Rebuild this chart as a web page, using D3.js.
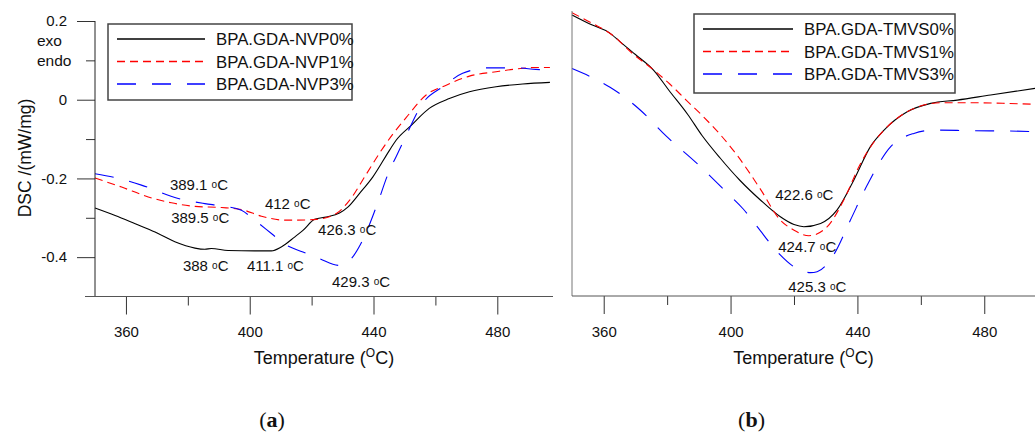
<!DOCTYPE html>
<html>
<head>
<meta charset="utf-8">
<script src="https://cdn.jsdelivr.net/npm/d3@7"></script>
<style>
  body { margin: 0; background: #fff; }
  text { font-family: "Liberation Sans", Arial, sans-serif; fill: #111; }
</style>
</head>
<body>
<svg width="1035" height="437"></svg>
<script>
const svg = d3.select('svg');

// ---- data ----
const tempTicks = [360, 380, 400, 420, 440, 460, 480];
const majorTemps = [360, 400, 440, 480];
const dscTicksA = [0.2, 0.1, 0, -0.1, -0.2, -0.3, -0.4];
const dscLabelsA = ['0.2', '', '0', '', '-0.2', '', '-0.4'];

// (a) NVP series: [temperature, DSC]
const nvp0 = [[350,-0.275],[356.5,-0.294],[363,-0.315],[369.4,-0.336],[375.8,-0.361],[382.3,-0.377],[385.5,-0.380],[387.6,-0.378],[393,-0.383],[401.6,-0.384],[407,-0.384],[410.2,-0.374],[414.5,-0.349],[417.2,-0.332],[421,-0.304],[424.7,-0.298],[429,-0.288],[431.7,-0.273],[435.5,-0.238],[439.8,-0.196],[445.2,-0.128],[447.3,-0.103],[452.2,-0.065],[458,-0.022],[464.5,0.003],[471,0.020],[479.6,0.033],[488.2,0.040],[497,0.044]];
const nvp1 = [[350,-0.199],[358.6,-0.222],[367.2,-0.247],[374.7,-0.262],[382.3,-0.271],[390.9,-0.274],[397.3,-0.279],[403.8,-0.296],[411.3,-0.306],[415,-0.306],[421.5,-0.304],[428,-0.289],[432.3,-0.255],[437.6,-0.19],[442,-0.135],[446,-0.09],[450.6,-0.045],[457,0.012],[463.5,0.037],[471,0.060],[479.6,0.071],[486,0.078],[492.5,0.082],[497,0.082]];
const nvp3 = [[350,-0.188],[356.5,-0.198],[365,-0.217],[376.9,-0.251],[385.5,-0.264],[390.9,-0.270],[397.3,-0.281],[401.6,-0.306],[407,-0.340],[411.3,-0.367],[417.2,-0.387],[422.6,-0.404],[429,-0.421],[432.8,-0.404],[436.5,-0.357],[440.9,-0.272],[445.2,-0.179],[447.3,-0.145],[450.6,-0.090],[455.9,-0.009],[462.4,0.033],[468.8,0.067],[477.4,0.081],[486,0.081],[492.5,0.077],[497,0.075]];

// (b) TMVS series: [temperature, DSC] (no y labels in the original)
const tmvs0 = [[350,0.187],[356.4,0.153],[361.7,0.128],[365.1,0.098],[370,0.055],[375.7,0.003],[380.6,-0.065],[386.5,-0.145],[391,-0.215],[396.7,-0.29],[403,-0.365],[409.4,-0.43],[415.7,-0.486],[420,-0.512],[423.1,-0.519],[428.4,-0.508],[433.6,-0.463],[438.9,-0.363],[444.1,-0.252],[448.4,-0.197],[455.7,-0.136],[463.1,-0.108],[471.5,-0.097],[482,-0.08],[496,-0.058]];
const tmvs1 = [[350,0.194],[356.4,0.159],[362.7,0.12],[369,0.059],[376.4,-0.002],[381,-0.045],[386,-0.097],[391.4,-0.152],[397,-0.215],[402,-0.28],[409.3,-0.392],[415.7,-0.497],[419.9,-0.53],[424.7,-0.549],[430.5,-0.519],[435.7,-0.43],[441,-0.308],[445,-0.24],[448.4,-0.197],[455.7,-0.136],[466.2,-0.106],[476.7,-0.106],[487.3,-0.108],[496,-0.111]];
const tmvs3 = [[350,0.008],[356.4,-0.022],[362,-0.054],[371.5,-0.13],[379.9,-0.219],[389.4,-0.308],[398.8,-0.405],[404,-0.46],[408.4,-0.519],[415.2,-0.608],[419.9,-0.652],[425.2,-0.672],[427.3,-0.669],[432.5,-0.613],[437.8,-0.497],[443.1,-0.38],[450.5,-0.252],[457.8,-0.208],[464.1,-0.197],[476.7,-0.199],[487.3,-0.2],[496,-0.202]];

// peak labels: [temperature, DSC, text]
const peaksA = [[374.2,-0.230,'389.1'],[404.9,-0.278,'412'],[374.6,-0.314,'389.5'],[422.1,-0.345,'426.3'],[378.4,-0.436,'388'],[399.1,-0.436,'411.1'],[426.6,-0.477,'429.3']];
const peaksB = [[414.1,-0.43,'422.6'],[415.0,-0.603,'424.7'],[418.2,-0.737,'425.3']];

const namesA = ['BPA.GDA-NVP0%', 'BPA.GDA-NVP1%', 'BPA.GDA-NVP3%'];
const namesB = ['BPA.GDA-TMVS0%', 'BPA.GDA-TMVS1%', 'BPA.GDA-TMVS3%'];

const styles = [
  { color: '#000', dash: null },
  { color: '#ff0000', dash: '8,5' },
  { color: '#0000ff', dash: '19,16' }
];

// ---- scales ----
const xA = d3.scaleLinear().domain([350, 498]).range([95, 553]);
const yA = d3.scaleLinear().domain([-0.5, 0.2]).range([296.5, 21]);
const xB = d3.scaleLinear().domain([350, 496]).range([572, 1035]);
const yB = d3.scaleLinear().domain([-0.75, 0.2]).range([296, 11]);

const drawPanel = (x, y, series, names, peaks, legendBox, title) => {
  const g = svg.append('g');

  // x axis with long/short ticks
  const xAxisG = g.append('g')
    .attr('transform', `translate(0, ${y.range()[0]})`)
    .call(d3.axisBottom(x)
      .tickValues(tempTicks)
      .tickSize(18)
      .tickPadding(12)
      .tickFormat(d => majorTemps.includes(d) ? d : ''));
  xAxisG.select('.domain').remove();
  xAxisG.selectAll('.tick line')
    .attr('stroke', '#333')
    .attr('y2', d => majorTemps.includes(d) ? 18 : 9);
  xAxisG.selectAll('.tick text')
    .attr('font-size', 15)
    .attr('font-family', '"Liberation Sans", Arial, sans-serif')
    .attr('fill', '#111');

  // axis title
  const t = g.append('text')
    .attr('x', (x.range()[0] + x.range()[1]) / 2)
    .attr('y', 364)
    .attr('text-anchor', 'middle')
    .attr('font-size', 18);
  t.append('tspan').text('Temperature (');
  t.append('tspan').attr('font-size', 12).attr('dy', -7).text('O');
  t.append('tspan').attr('dy', 7).text('C)');

  // curves
  const line = d3.line()
    .x(d => x(d[0]))
    .y(d => y(d[1]))
    .curve(d3.curveMonotoneX);

  g.selectAll('path.curve').data(series)
    .enter().append('path')
      .attr('class', 'curve')
      .attr('d', line)
      .attr('fill', 'none')
      .attr('stroke', (d, i) => styles[i].color)
      .attr('stroke-width', 1.1)
      .attr('stroke-dasharray', (d, i) => styles[i].dash);

  // peak labels  "412 oC"
  peaks.forEach(p => {
    const txt = g.append('text')
      .attr('x', x(p[0]))
      .attr('y', y(p[1]))
      .attr('font-size', 15);
    txt.append('tspan').text(p[2] + ' ');
    txt.append('tspan').attr('font-size', 10).attr('dy', -2).text('o');
    txt.append('tspan').attr('dy', 2).text('C');
  });

  // legend
  const lg = g.append('g').attr('transform', `translate(${legendBox.x}, ${legendBox.y})`);
  lg.append('rect')
    .attr('width', legendBox.w)
    .attr('height', legendBox.h)
    .attr('fill', '#fff')
    .attr('stroke', '#444')
    .attr('stroke-width', 1.5);
  names.forEach((name, i) => {
    const ly = legendBox.first + i * 22.5;
    lg.append('line')
      .attr('x1', 9).attr('x2', legendBox.lineEnd)
      .attr('y1', ly).attr('y2', ly)
      .attr('stroke', styles[i].color)
      .attr('stroke-width', 1.3)
      .attr('stroke-dasharray', styles[i].dash);
    lg.append('text')
      .attr('x', legendBox.lineEnd + 11)
      .attr('y', ly + 6)
      .attr('font-size', 16.8)
      .text(name);
  });

  // panel letter
  const pl = svg.append('text')
    .attr('x', (x.range()[0] + x.range()[1]) / 2 - 52)
    .attr('y', 427)
    .attr('text-anchor', 'middle')
    .style('font-family', '"Liberation Serif", "DejaVu Serif", serif')
    .attr('font-size', 22);
  pl.append('tspan').text('(');
  pl.append('tspan').attr('font-weight', 'bold').text(title);
  pl.append('tspan').text(')');

  return g;
};

// ---- panel (a) ----
const gA = drawPanel(xA, yA, [nvp0, nvp1, nvp3], namesA, peaksA,
  { x: 108, y: 24, w: 244, h: 76, first: 15, lineEnd: 97 }, 'a');

const yAxisG = gA.append('g')
  .attr('transform', `translate(${xA.range()[0]}, 0)`)
  .call(d3.axisLeft(yA)
    .tickValues(dscTicksA)
    .tickSize(18)
    .tickPadding(10)
    .tickFormat((d, i) => dscLabelsA[i]));
yAxisG.select('.domain').remove();
yAxisG.selectAll('.tick line')
  .attr('stroke', '#333')
  .attr('x2', (d, i) => dscLabelsA[i] ? -18 : -9);
yAxisG.selectAll('.tick text')
  .attr('font-size', 15)
  .attr('font-family', '"Liberation Sans", Arial, sans-serif')
  .attr('fill', '#111');

// exo / endo marks next to the 0.1 tick
gA.append('text').attr('x', 37).attr('y', yA(0.1) - 14).attr('font-size', 15.5).text('exo');
gA.append('text').attr('x', 37).attr('y', yA(0.1) + 6).attr('font-size', 15.5).text('endo');

// axis lines
gA.append('line')
  .attr('x1', xA.range()[0]).attr('x2', xA.range()[0])
  .attr('y1', yA(0.2)).attr('y2', yA.range()[0])
  .attr('stroke', '#222');
gA.append('line')
  .attr('x1', xA.range()[0] - 10).attr('x2', xA.range()[1])
  .attr('y1', yA.range()[0]).attr('y2', yA.range()[0])
  .attr('stroke', '#555');

gA.append('text')
  .attr('transform', `translate(31, 158) rotate(-90)`)
  .attr('text-anchor', 'middle')
  .attr('font-size', 17.5)
  .text('DSC /(mW/mg)');

// ---- panel (b) ----
const gB = drawPanel(xB, yB, [tmvs0, tmvs1, tmvs3], namesB, peaksB,
  { x: 694, y: 14, w: 261, h: 79, first: 15, lineEnd: 99 }, 'b');

gB.append('line')
  .attr('x1', xB.range()[0]).attr('x2', xB.range()[0])
  .attr('y1', yB.range()[1]).attr('y2', yB.range()[0])
  .attr('stroke', '#777');
gB.append('line')
  .attr('x1', xB.range()[0]).attr('x2', xB.range()[1])
  .attr('y1', yB.range()[0]).attr('y2', yB.range()[0])
  .attr('stroke', '#555');
</script>
</body>
</html>
